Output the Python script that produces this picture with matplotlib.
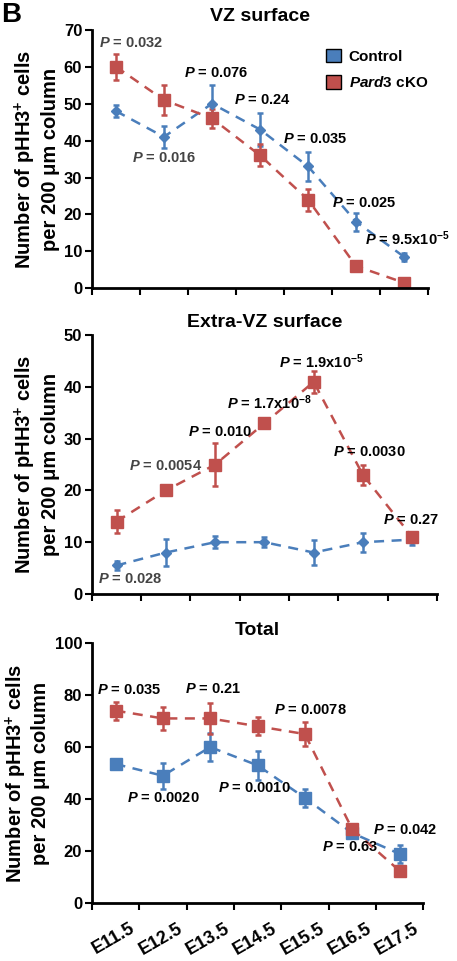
import matplotlib
matplotlib.use("Agg")
import matplotlib.pyplot as plt
from matplotlib.transforms import ScaledTranslation
import numpy as np

plt.rcParams['font.family'] = ['Liberation Sans', 'DejaVu Sans']
plt.rcParams['font.weight'] = 'bold'
plt.rcParams['mathtext.fontset'] = 'custom'
plt.rcParams['mathtext.rm'] = 'Liberation Sans:bold'
plt.rcParams['mathtext.bf'] = 'Liberation Sans:bold'
plt.rcParams['mathtext.it'] = 'Liberation Sans:bold:italic'

BLUE = '#4a7ebb'
RED = '#c0504d'
GRAY = '#444444'

stages = ['E11.5', 'E12.5', 'E13.5', 'E14.5', 'E15.5', 'E16.5', 'E17.5']

# VZ surface
vz_ctrl = [48, 41, 50, 43, 33, 18, 8.5]
vz_ctrl_err = [1.5, 3, 5, 4.5, 4, 2.5, 1]
vz_cko = [60, 51, 46, 36, 24, 6, 1.5]
vz_cko_err = [3.5, 4, 2.5, 3, 3, 1, 0.5]
vz_p = ['0.032', '0.016', '0.076', '0.24', '0.035', '0.025', '9.5x10$^{-5}$']
vz_px = [-0.35, 0.33, 1.42, 2.46, 3.48, 4.5, 5.19]
vz_py = [66.5, 35.3, 58.3, 51, 40.4, 23, 13.5]
vz_pc = [GRAY, GRAY, 'k', 'k', 'k', 'k', 'k']

# Extra-VZ surface
ex_ctrl = [5.5, 8, 10, 10, 8, 10, 10.5]
ex_ctrl_err = [0.8, 2.7, 1.2, 1, 2.5, 1.8, 1]
ex_cko = [14, 20, 25, 33, 41, 23, 11]
ex_cko_err = [2.2, 0.5, 4.2, 1, 2.2, 2, 0.8]
ex_p = ['0.028', '0.0054', '0.010', '1.7x10$^{-8}$', '1.9x10$^{-5}$', '0.0030', '0.27']
ex_px = [-0.37, 0.26, 1.46, 2.24, 3.3, 4.39, 5.4]
ex_py = [2.9, 24.7, 31.3, 36.9, 45, 27.4, 14.3]
ex_pc = [GRAY, GRAY, 'k', 'k', 'k', 'k', 'k']

# Total
tot_ctrl = [53.5, 49, 60, 53, 40.5, 27, 19]
tot_ctrl_err = [2, 5, 5.5, 5.5, 3.5, 2, 3.5]
tot_cko = [74, 71, 71, 68, 65, 28.5, 12.5]
tot_cko_err = [3.5, 4.5, 6, 3.5, 4.5, 1.5, 1]
tot_p = ['0.035', '0.0020', '0.21', '0.0010', '0.0078', '0.63', '0.042']
tot_px = [-0.4, 0.25, 1.46, 2.16, 3.34, 4.36, 5.45]
tot_py = [81.9, 40.4, 82.3, 44.2, 74.2, 21.5, 28]
tot_pc = ['k'] * 7

fig = plt.figure(figsize=(4.57, 9.61), dpi=100)

panels = [
    ([0.201, 0.700, 0.736, 0.269], 'VZ surface', 70, 10,
     vz_ctrl, vz_ctrl_err, vz_cko, vz_cko_err, vz_p, vz_px, vz_py, vz_pc, 'D'),
    ([0.201, 0.382, 0.755, 0.269], 'Extra-VZ surface', 50, 10,
     ex_ctrl, ex_ctrl_err, ex_cko, ex_cko_err, ex_p, ex_px, ex_py, ex_pc, 'D'),
    ([0.201, 0.060, 0.725, 0.271], 'Total', 100, 20,
     tot_ctrl, tot_ctrl_err, tot_cko, tot_cko_err, tot_p, tot_px, tot_py, tot_pc, 's'),
]

x = np.arange(len(stages))
for i, (rect, title, ymax, ystep, c, ce, k, ke, plab, px, py, pc, cmark) in enumerate(panels):
    ax = fig.add_axes(rect)
    ax.errorbar(x, c, yerr=ce, color=BLUE, ls=(0, (4, 3)), lw=1.8,
                marker=cmark, ms=5.5 if cmark == 'D' else 8, mfc=BLUE, mec=BLUE,
                elinewidth=1.8, capsize=2.5, capthick=1.8, label='Control')
    ax.errorbar(x, k, yerr=ke, color=RED, ls=(0, (4, 3)), lw=1.8,
                marker='s', ms=8, mfc=RED, mec=RED,
                elinewidth=1.8, capsize=2.5, capthick=1.8, label='Pard3 cKO')
    for lab, tx, ty, col in zip(plab, px, py, pc):
        ax.text(tx, ty, '$P$ = ' + lab, fontsize=10.5, color=col,
                ha='left', va='center', fontweight='bold')
    ax.set_xlim(-0.5, len(stages) - 0.5)
    ax.set_ylim(0, ymax)
    ax.set_yticks(np.arange(0, ymax + 1, ystep))
    ax.set_xticks(np.arange(-0.5, len(stages)))
    ax.set_xticklabels([])
    ax.spines['top'].set_visible(False)
    ax.spines['right'].set_visible(False)
    ax.spines['left'].set_linewidth(2)
    ax.spines['bottom'].set_linewidth(2)
    ax.tick_params(axis='both', width=1.5, length=5, labelsize=12, pad=2)
    for t in ax.get_yticklabels():
        t.set_fontweight('bold')
    ax.set_title(title, fontsize=14, fontweight='bold', pad=6)
    ax.set_ylabel('Number of pHH3$^{+}$ cells\nper 200 \u03bcm column',
                  fontsize=14.5, fontweight='bold', labelpad=3, linespacing=1.15)
    if i == 0:
        h1 = plt.Rectangle((0, 0), 1, 1, fc=BLUE, ec='k', lw=1)
        h2 = plt.Rectangle((0, 0), 1, 1, fc=RED, ec='k', lw=1)
        ax.legend([h1, h2], ['Control', r'$\mathit{Pard3}$ cKO'], loc='upper right',
                  bbox_to_anchor=(1.04, 0.98), frameon=False, fontsize=11,
                  handlelength=1.0, handleheight=1.0, handletextpad=0.5,
                  labelspacing=0.75)
    if i == 2:
        ax.set_xticks(x, minor=True)
        ax.set_xticklabels(stages, minor=True, rotation=30, ha='right',
                           rotation_mode='anchor', fontsize=13, fontweight='bold')
        ax.tick_params(axis='x', which='minor', length=0, pad=12)
        shift = ScaledTranslation(10 / 72, 0, fig.dpi_scale_trans)
        for t in ax.get_xticklabels(minor=True):
            t.set_transform(t.get_transform() + shift)

fig.text(0.003, 0.998, 'B', fontsize=20, fontweight='bold', ha='left', va='top')

fig.savefig('out.png', dpi=100)
